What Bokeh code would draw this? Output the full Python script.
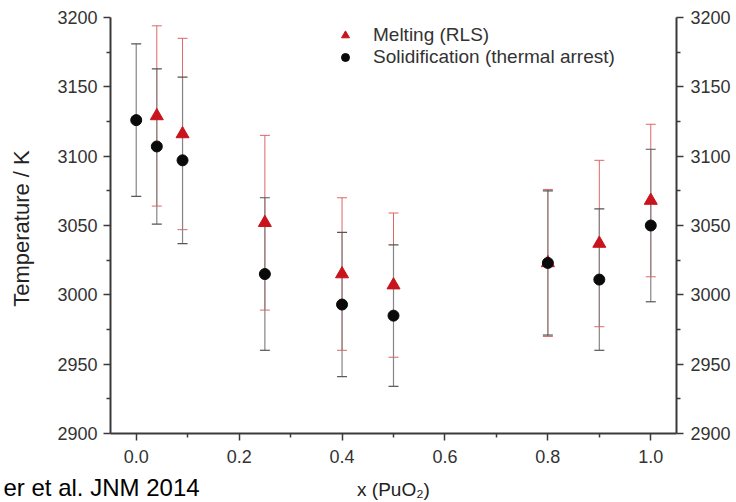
import math
from bokeh.plotting import figure
from bokeh.models import (ColumnDataSource, Whisker, TeeHead, LinearAxis, FixedTicker,
                          PrintfTickFormatter, Legend, LegendItem, Label, Range1d)
from bokeh.embed import file_html
from bokeh.resources import INLINE

# ---- data ----
x_melt = [0.04, 0.09, 0.25, 0.40, 0.50, 0.80, 0.90, 1.00]
t_melt = [3129, 3116, 3052, 3015, 3007, 3023, 3037, 3068]
err_melt = [65, 69, 63, 55, 52, 53, 60, 55]

x_sol = [0.00, 0.04, 0.09, 0.25, 0.40, 0.50, 0.80, 0.90, 1.00]
t_sol = [3126, 3107, 3097, 3015, 2993, 2985, 3023, 3011, 3050]
err_sol = [55, 56, 60, 55, 52, 51, 52, 51, 55]

x_ticks = [0.0, 0.2, 0.4, 0.6, 0.8, 1.0]
x_minor = [0.1, 0.3, 0.5, 0.7, 0.9]
y_ticks = [2900, 2950, 3000, 3050, 3100, 3150, 3200]
y_minor = [2925, 2975, 3025, 3075, 3125, 3175]
x_lim = (-0.05, 1.05)
y_lim = (2900, 3200)

label_melt = "Melting (RLS)"
label_sol = "Solidification (thermal arrest)"
x_title = "x (PuO\u2082)"
y_title = "Temperature / K"
credit = "er et al. JNM 2014"

RED = "#c8141c"
RED_ERR = "#e06666"
GRAY_ERR = "#858585"
AXIS = "#3a3a3a"
FONT = "Liberation Sans"

W, H = 736, 502
# plot box inside the page (pixels): left, right, top, bottom
BOX_L, BOX_R, BOX_T, BOX_B = 110, 676, 17, 433

# extend the ranges so that the data box sits at BOX_* while the frame fills the page
px_x = (BOX_R - BOX_L) / (x_lim[1] - x_lim[0])
px_y = (BOX_B - BOX_T) / (y_lim[1] - y_lim[0])
xr = Range1d(x_lim[0] - BOX_L / px_x, x_lim[1] + (W - BOX_R) / px_x)
yr = Range1d(y_lim[0] - (H - BOX_B) / px_y, y_lim[1] + BOX_T / px_y)

src_m = ColumnDataSource(dict(x=x_melt, t=t_melt,
                              lo=[t - e for t, e in zip(t_melt, err_melt)],
                              hi=[t + e for t, e in zip(t_melt, err_melt)]))
src_s = ColumnDataSource(dict(x=x_sol, t=t_sol,
                              lo=[t - e for t, e in zip(t_sol, err_sol)],
                              hi=[t + e for t, e in zip(t_sol, err_sol)]))

p = figure(width=W, height=H, output_backend="svg", toolbar_location=None,
           x_range=xr, y_range=yr,
           min_border=0, min_border_left=0, min_border_right=0,
           min_border_top=0, min_border_bottom=0)
p.outline_line_color = None
p.xgrid.visible = False
p.ygrid.visible = False
p.background_fill_color = "white"
p.border_fill_color = "white"

w_m = Whisker(source=src_m, base="x", upper="hi", lower="lo", dimension="height",
              line_color=RED_ERR, line_width=1,
              upper_head=TeeHead(size=10, line_color=RED_ERR, line_width=1),
              lower_head=TeeHead(size=10, line_color=RED_ERR, line_width=1))
w_s = Whisker(source=src_s, base="x", upper="hi", lower="lo", dimension="height",
              line_color=GRAY_ERR, line_width=1.2,
              upper_head=TeeHead(size=10, line_color="#555555", line_width=1.2),
              lower_head=TeeHead(size=10, line_color="#555555", line_width=1.2))
p.add_layout(w_m)
p.add_layout(w_s)

r_m = p.scatter("x", "t", source=src_m, marker="triangle", size=13,
                fill_color=RED, line_color=RED)
r_s = p.scatter("x", "t", source=src_s, marker="circle", size=11,
                fill_color="#0a0a0a", line_color="#0a0a0a")

def style_axis(ax):
    ax.axis_line_color = AXIS
    ax.axis_line_width = 2
    ax.major_tick_line_color = AXIS
    ax.major_tick_line_width = 1.5
    ax.minor_tick_line_color = AXIS
    ax.minor_tick_line_width = 1.5
    ax.major_tick_in = 0
    ax.major_tick_out = 7
    ax.minor_tick_in = 0
    ax.minor_tick_out = 4
    ax.major_label_text_font = FONT
    ax.major_label_text_font_size = "18px"
    ax.major_label_text_color = "#333333"

xa = p.xaxis[0]
xa.ticker = FixedTicker(ticks=x_ticks, minor_ticks=x_minor)
xa.formatter = PrintfTickFormatter(format="%.1f")
xa.bounds = x_lim
xa.fixed_location = y_lim[0]
style_axis(xa)
xa.major_label_standoff = 9

ya = p.yaxis[0]
ya.ticker = FixedTicker(ticks=y_ticks, minor_ticks=y_minor)
ya.formatter = PrintfTickFormatter(format="%d")
ya.bounds = y_lim
ya.fixed_location = x_lim[0]
style_axis(ya)
ya.major_label_standoff = 6

ra = LinearAxis(ticker=FixedTicker(ticks=y_ticks, minor_ticks=y_minor),
                formatter=PrintfTickFormatter(format="%d"),
                bounds=y_lim, fixed_location=x_lim[1])
style_axis(ra)
ra.major_label_standoff = 7
p.add_layout(ra, "right")

legend = Legend(items=[LegendItem(label=label_melt, renderers=[r_m]),
                       LegendItem(label=label_sol, renderers=[r_s])],
                location=(335, H - 68), orientation="vertical",
                background_fill_alpha=0, border_line_color=None,
                glyph_width=20, glyph_height=20, label_height=20, spacing=0,
                padding=0, margin=0, label_standoff=18,
                label_text_font=FONT, label_text_font_size="19px",
                label_text_color="#333333")
p.add_layout(legend)

# axis titles and credit (screen units, measured from the page's bottom-left)
p.add_layout(Label(x=(BOX_L + BOX_R) / 2, y=H - 489, x_units="screen", y_units="screen",
                   text=x_title, text_font=FONT, text_font_size="19px",
                   text_color="#222222", text_align="center", text_baseline="middle"))
p.add_layout(Label(x=21, y=H - 228, x_units="screen", y_units="screen",
                   text=y_title, angle=math.pi / 2, text_font=FONT, text_font_size="22px",
                   text_color="#222222", text_align="center", text_baseline="middle"))
p.add_layout(Label(x=3, y=15, x_units="screen", y_units="screen", text=credit,
                   text_font=FONT, text_font_size="24px", text_color="black",
                   text_baseline="alphabetic"))

open("out.html", "w").write(file_html(p, INLINE))
